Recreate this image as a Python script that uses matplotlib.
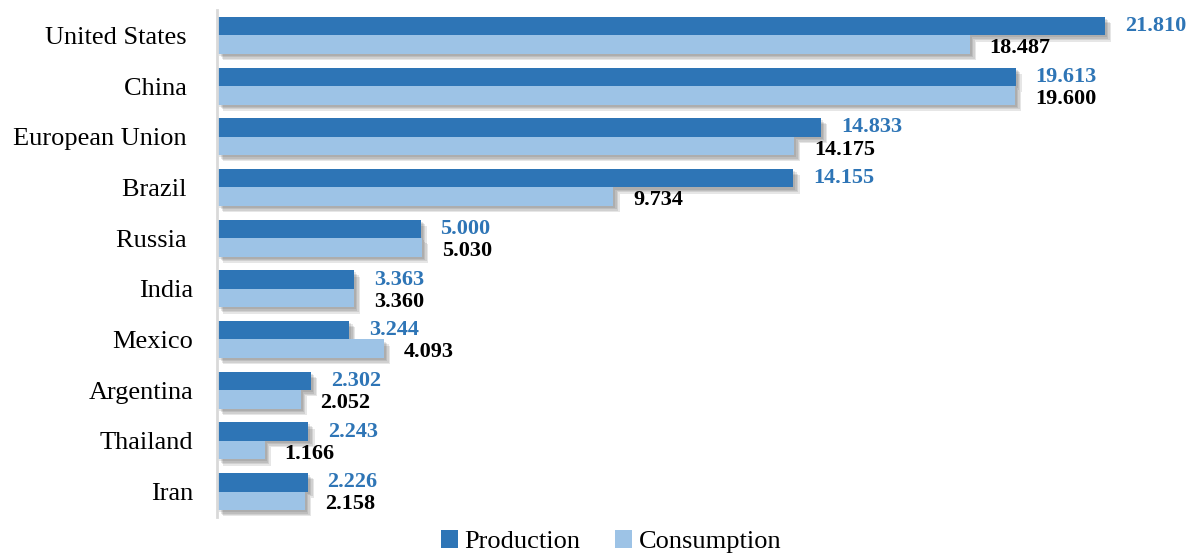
import matplotlib.pyplot as plt
import matplotlib.patheffects as pe
import numpy as np

plt.rcParams['font.family'] = ['Liberation Serif', 'DejaVu Serif']

countries = ['United States ', 'China ', 'European Union ', 'Brazil ', 'Russia ',
             'India', 'Mexico', 'Argentina', 'Thailand', 'Iran']
production = [21.810, 19.613, 14.833, 14.155, 5.000, 3.363, 3.244, 2.302, 2.243, 2.226]
consumption = [18.487, 19.600, 14.175, 9.734, 5.030, 3.360, 4.093, 2.052, 1.166, 2.158]

dark = '#2E75B6'
light = '#9DC3E6'

fig = plt.figure(figsize=(11.86, 5.57), dpi=100)
ax = fig.add_axes([0.183, 0.072, 0.817, 0.910])

y = np.arange(len(countries))
h = 0.365

# soft drop shadow built from a few offset layers
shadow = [pe.SimplePatchShadow(offset=(k, -k), shadow_rgbFace='#505050', alpha=0.14)
          for k in (1.5, 2.5, 3.5, 4.5)] + [pe.Normal()]

ax.barh(y - h / 2, production, height=h, color=dark, label='Production', path_effects=shadow)
ax.barh(y + h / 2, consumption, height=h, color=light, label='Consumption', path_effects=shadow)

pad = 0.49
for i in range(len(countries)):
    ax.text(production[i] + pad, y[i] - h / 2, f'{production[i]:.3f}', color=dark,
            fontsize=16, fontweight='bold', va='center', ha='left')
    ax.text(consumption[i] + pad, y[i] + h / 2 + 0.07, f'{consumption[i]:.3f}', color='black',
            fontsize=16, fontweight='bold', va='center', ha='left')

ax.set_yticks(y)
ax.set_yticklabels(countries, fontsize=19)
ax.tick_params(axis='y', length=0, pad=17)
ax.set_xticks([])
ax.set_xlim(0, 23.8)
ax.set_ylim(9.5, -0.5)
for s in ['top', 'right', 'bottom']:
    ax.spines[s].set_visible(False)
ax.spines['left'].set_color('#d9d9d9')
ax.spines['left'].set_linewidth(2)

leg = fig.legend(loc='lower center', bbox_to_anchor=(0.515, -0.036), ncol=2, frameon=False,
                 fontsize=19, handlelength=0.65, handleheight=0.65, handletextpad=0.25,
                 columnspacing=1.3)
for hdl in leg.legend_handles:
    hdl.set_path_effects([])

fig.savefig('out.png', dpi=100)
